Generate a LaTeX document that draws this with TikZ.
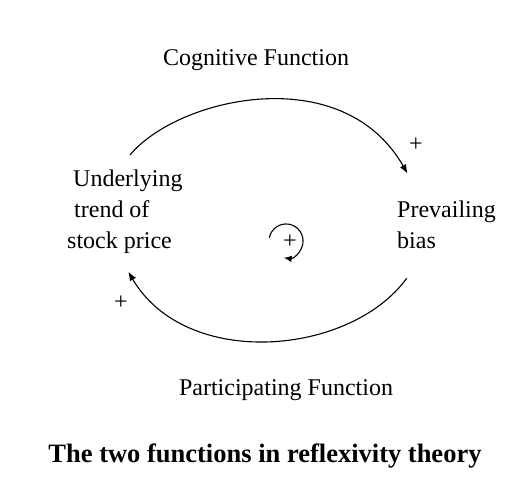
\documentclass[tikz,border=0pt]{standalone}
\usepackage{fontspec}
\setmainfont{Liberation Serif}
\usetikzlibrary{arrows.meta}
\tikzset{
  lbl/.style={inner sep=0pt, font=\fontsize{24}{31}\selectfont},
  ttl/.style={inner sep=0pt, font=\fontsize{26.5}{32}\selectfont\bfseries},
  sgn/.style={inner sep=0pt, font=\fontsize{24}{31}\selectfont},
  conn/.style={line width=1.1pt, -{Latex[length=9pt,width=7pt]}},
}
\begin{document}
\begin{tikzpicture}[x=1pt,y=-1pt]
\useasboundingbox[fill=white] (0,0) rectangle (526,496);
% labels
\node[lbl, anchor=base] (cog) at (256,65) {Cognitive Function};
\node[lbl, anchor=base] (par) at (286,395) {Participating Function};
\node[ttl, anchor=base] (title) at (265,462) {The two functions in reflexivity theory};
\node[lbl, anchor=base west, align=left] (und) at (67,248)
  {\hspace*{6pt}Underlying\\\hspace*{7pt}trend of\\stock price};
\node[lbl, anchor=base west, align=left] (pre) at (397,248) {Prevailing\\bias};
% signs
\node[sgn] (p1) at (416,145) {+};
\node[sgn] (p2) at (121,303) {+};
\node[sgn] (p3) at (290,242) {+};
% arc end points
\coordinate (a0) at (130,155);
\coordinate (a1) at (407.5,173.5);
\coordinate (b0) at (406.7,278.3);
\coordinate (b1) at (128.3,271.7);
\coordinate (c0) at (269.3,238);
% connectors
\draw[conn] (a0) .. controls (177,98) and (342,59) .. (a1);
\draw[conn] (b0) .. controls (350,356) and (186,370) .. (b1);
\draw[line width=1.1pt, -{Latex[length=8pt,width=6.5pt]}] (c0) arc[start angle=-170, end angle=98, radius=17];
\end{tikzpicture}
\end{document}
